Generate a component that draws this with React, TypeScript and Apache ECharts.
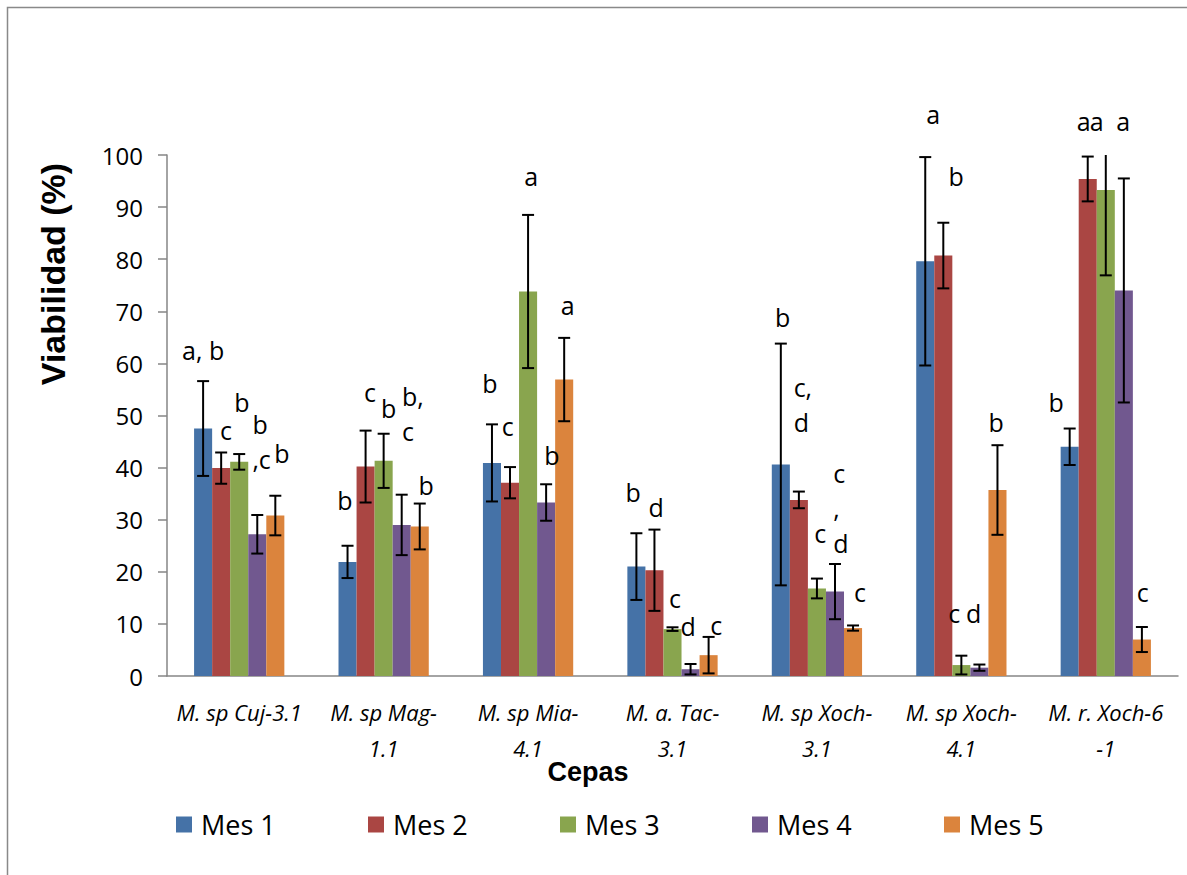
import { useEffect, useRef } from "react";
import * as echarts from "echarts";

const categories = [
  "M. sp Cuj-3.1",
  "M. sp Mag-\n1.1",
  "M. sp Mia-\n4.1",
  "M. a. Tac-\n3.1",
  "M. sp Xoch-\n3.1",
  "M. sp Xoch-\n4.1",
  "M. r. Xoch-6\n-1",
];
const seriesNames = ["Mes 1", "Mes 2", "Mes 3", "Mes 4", "Mes 5"];
const seriesColors = ["#4572A7", "#AA4643", "#89A54E", "#71588F", "#DB843D"];

const mes1 = [47.5, 21.9, 40.9, 21.0, 40.6, 79.6, 44.0];
const mes2 = [39.9, 40.2, 37.1, 20.3, 33.8, 80.7, 95.4];
const mes3 = [41.1, 41.3, 73.8, 9.0, 16.8, 2.1, 93.3];
const mes4 = [27.2, 29.0, 33.3, 1.3, 16.2, 1.6, 74.0];
const mes5 = [30.8, 28.7, 56.9, 4.0, 9.2, 35.7, 7.0];

const err1 = [9.1, 3.1, 7.4, 6.4, 23.2, 20.0, 3.5];
const err2 = [3.0, 6.9, 3.0, 7.8, 1.6, 6.3, 4.3];
const err3 = [1.5, 5.2, 14.7, 0.35, 1.9, 1.8, 16.4];
const err4 = [3.7, 5.8, 3.5, 1.0, 5.3, 0.6, 21.5];
const err5 = [3.8, 4.4, 8.0, 3.5, 0.5, 8.6, 2.4];

const values = [mes1, mes2, mes3, mes4, mes5];
const errors = [err1, err2, err3, err4, err5];

const yMin = 0;
const yMax = 100;
const yStep = 10;

// [category index, bar index, letters, y value, shift in bar widths, anchor]
const letters: [number, number, string, number, number, string][] = [
  [0, 0, "a, b", 62.6, 0.0, "center"],
  [0, 1, "c", 47.2, 0.27, "center"],
  [0, 2, "b", 52.6, 0.15, "center"],
  [0, 3, "b\n,c", 45.0, -0.27, "left"],
  [0, 4, "b", 42.8, 0.37, "center"],
  [1, 0, "b", 33.7, -0.14, "center"],
  [1, 1, "c", 54.6, 0.25, "center"],
  [1, 2, "b", 51.4, 0.27, "center"],
  [1, 3, "b,\nc", 50.3, 0.02, "left"],
  [1, 4, "b", 36.7, 0.35, "center"],
  [2, 0, "b", 56.3, -0.12, "center"],
  [2, 1, "c", 48.0, -0.13, "center"],
  [2, 2, "a", 96.0, 0.17, "center"],
  [2, 3, "b", 42.4, 0.32, "center"],
  [2, 4, "a", 71.2, 0.19, "center"],
  [3, 0, "b", 35.4, -0.18, "center"],
  [3, 1, "d", 32.4, 0.09, "center"],
  [3, 2, "c", 14.9, 0.14, "center"],
  [3, 3, "d", 9.6, -0.13, "center"],
  [3, 4, "c", 9.8, 0.42, "center"],
  [4, 0, "b", 69.0, 0.1, "center"],
  [4, 1, "c,\nd", 52.1, -0.29, "left"],
  [4, 2, "c", 27.5, 0.18, "center"],
  [4, 3, "c\n,\nd", 32.3, -0.1, "left"],
  [4, 4, "c", 16.2, 0.39, "center"],
  [5, 0, "a", 107.9, 0.44, "center"],
  [5, 1, "b", 95.9, 0.71, "center"],
  [5, 2, "c", 12.1, -0.4, "center"],
  [5, 3, "d", 12.1, -0.32, "center"],
  [5, 4, "b", 48.8, -0.07, "center"],
  [6, 0, "b", 52.5, -0.75, "center"],
  [6, 1, "a", 106.6, -0.22, "center"],
  [6, 2, "a", 106.6, -0.5, "center"],
  [6, 3, "a", 106.6, -0.03, "center"],
  [6, 4, "c", 16.1, 0.04, "center"],
];

const BAR_FRACTION = 0.125;
const FONT = '"Open Sans", "DejaVu Sans", sans-serif';
const BOLD_FONT = '"Liberation Sans", Arial, sans-serif';
const LEGEND_LEFTS = [176, 368, 560, 752, 944];

export default function App() {
  const ref = useRef<HTMLDivElement>(null);

  useEffect(() => {
    document.body.style.margin = "0";
    if (!ref.current) return;
    const chart = echarts.init(ref.current, undefined, { renderer: "svg" });

    const barSeries = seriesNames.map((name, j) => ({
      name,
      type: "bar",
      data: values[j],
      barGap: "0%",
      barCategoryGap: "37.5%",
      itemStyle: { color: seriesColors[j] },
      z: 2,
    }));

    const errorSeries = seriesNames.map((name, j) => ({
      name: name + " error",
      type: "custom",
      z: 5,
      data: values[j].map((v, i) => [i, v, errors[j][i]]),
      encode: { x: 0, y: 1 },
      renderItem: (params: any, api: any) => {
        const cat = api.value(0);
        const v = api.value(1);
        const e = api.value(2);
        const band = api.size([1, 0])[0];
        const bw = band * BAR_FRACTION;
        const cx = api.coord([cat, 0])[0] + (j - 2) * bw;
        const hiRaw = v + e;
        const hiV = Math.min(hiRaw, yMax);
        const loV = Math.max(v - e, yMin);
        const yHi = api.coord([cat, hiV])[1];
        const yLo = api.coord([cat, loV])[1];
        const cap = 6;
        const st = { stroke: "#000", lineWidth: 2 };
        const children: any[] = [
          { type: "line", shape: { x1: cx, y1: yHi, x2: cx, y2: yLo }, style: st },
          { type: "line", shape: { x1: cx - cap, y1: yLo, x2: cx + cap, y2: yLo }, style: st },
        ];
        if (hiRaw <= yMax) {
          children.push({ type: "line", shape: { x1: cx - cap, y1: yHi, x2: cx + cap, y2: yHi }, style: st });
        }
        return { type: "group", children };
      },
    }));

    const letterSeries = {
      name: "letters",
      type: "custom",
      z: 6,
      data: letters.map((l) => [l[0], l[3]]),
      encode: { x: 0, y: 1 },
      renderItem: (params: any, api: any) => {
        const l = letters[params.dataIndex];
        const band = api.size([1, 0])[0];
        const bw = band * BAR_FRACTION;
        const p = api.coord([api.value(0), api.value(1)]);
        return {
          type: "text",
          x: p[0] + (l[1] - 2 + l[4]) * bw,
          y: p[1],
          style: {
            text: l[2],
            fill: "#000",
            fontSize: 25,
            fontFamily: FONT,
            lineHeight: 35,
            align: l[5],
            verticalAlign: "middle",
          },
        };
      },
    };

    const legends = seriesNames.map((name, j) => ({
      data: [name],
      left: LEGEND_LEFTS[j],
      top: 811,
      padding: 0,
      icon: "rect",
      itemWidth: 16,
      itemHeight: 16,
      textStyle: { fontSize: 27, fontFamily: FONT, color: "#000", padding: [0, 0, 0, 4] },
    }));

    chart.setOption({
      animation: false,
      backgroundColor: "#fff",
      grid: { left: 167, right: 9, top: 155, bottom: 199, containLabel: false },
      legend: legends,
      xAxis: {
        type: "category",
        data: categories,
        axisLine: { lineStyle: { color: "#868686", width: 1.5 } },
        axisTick: { show: false },
        axisLabel: {
          interval: 0,
          color: "#000",
          fontSize: 22,
          fontStyle: "italic",
          fontFamily: FONT,
          lineHeight: 36,
          margin: 18,
        },
      },
      yAxis: {
        type: "value",
        min: yMin,
        max: yMax,
        interval: yStep,
        axisLine: { show: true, lineStyle: { color: "#868686", width: 1.5 } },
        axisTick: { show: true, length: 9, lineStyle: { color: "#868686", width: 1.5 } },
        splitLine: { show: false },
        axisLabel: { color: "#000", fontSize: 24, fontFamily: FONT, margin: 24 },
      },
      graphic: [
        {
          type: "rect",
          silent: true,
          shape: { x: 7.5, y: 7.5, width: 1300, height: 1000 },
          style: { fill: "none", stroke: "#898989", lineWidth: 1.5 },
        },
        {
          type: "text",
          x: 53,
          y: 274,
          rotation: Math.PI / 2,
          style: {
            text: "Viabilidad (%)",
            fill: "#000",
            fontSize: 34,
            fontWeight: "bold",
            fontFamily: BOLD_FONT,
            align: "center",
            verticalAlign: "middle",
          },
        },
        {
          type: "text",
          x: 588,
          y: 772,
          style: {
            text: "Cepas",
            fill: "#000",
            fontSize: 27,
            fontWeight: "bold",
            fontFamily: BOLD_FONT,
            align: "center",
            verticalAlign: "middle",
          },
        },
      ],
      series: [...barSeries, ...errorSeries, letterSeries],
    });

    return () => chart.dispose();
  }, []);

  return <div ref={ref} style={{ width: 1187, height: 875 }} />;
}
